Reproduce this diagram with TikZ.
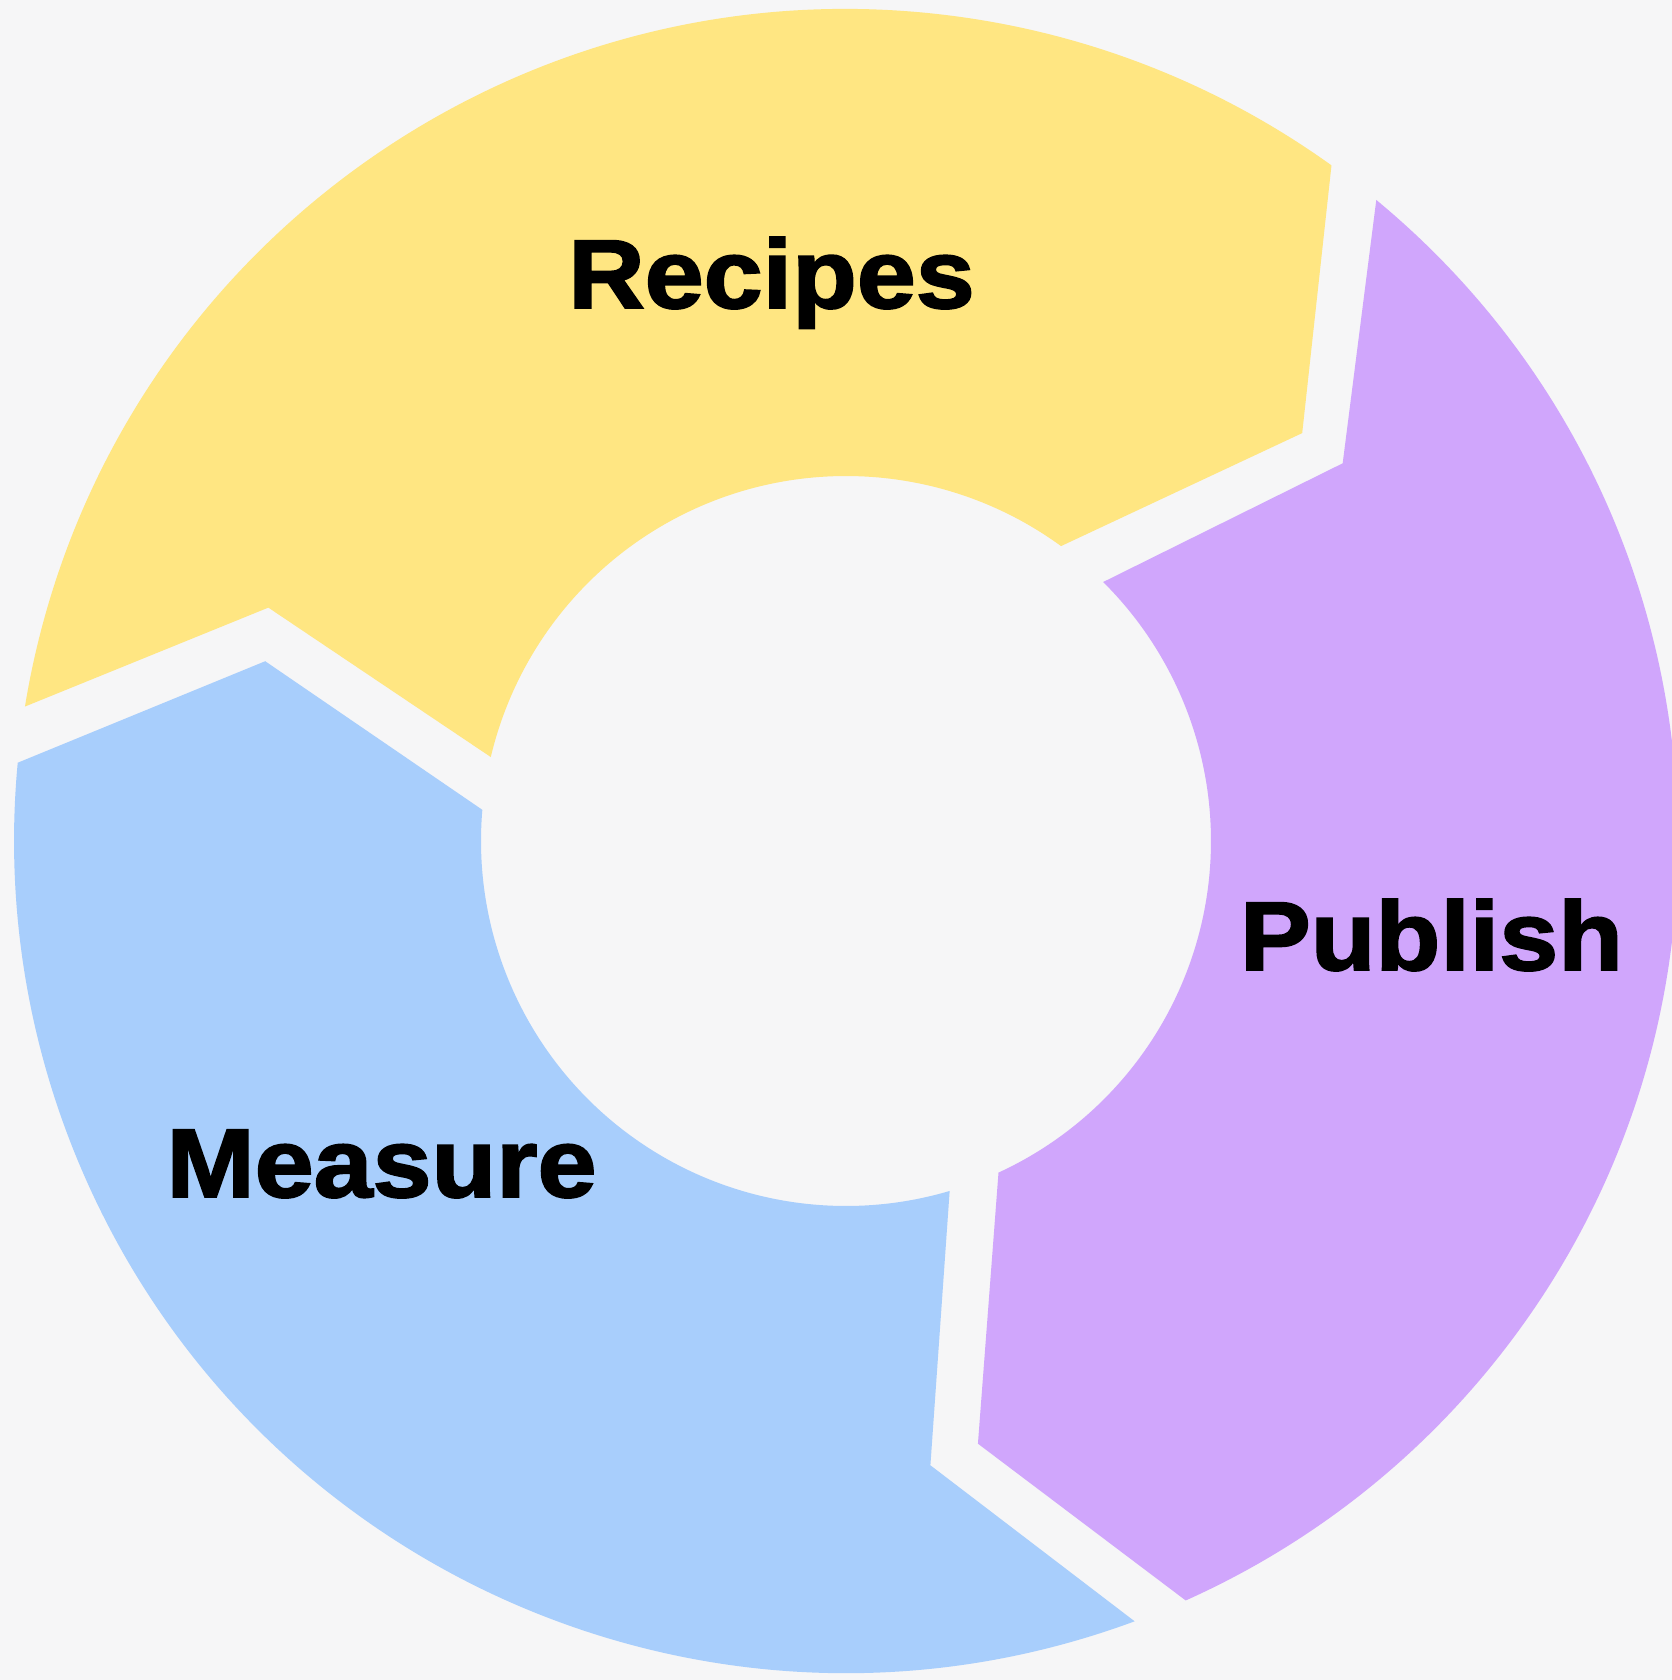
\documentclass[tikz,border=0pt]{standalone}
\usepackage{fontspec}
\newfontfamily\lblfont{Liberation Sans}[BoldFeatures={FakeBold=2,FakeStretch=1.085}]
\definecolor{bgc}{HTML}{F6F6F7}
\definecolor{yellowc}{HTML}{FFE682}
\definecolor{purplec}{HTML}{D0A6FC}
\definecolor{bluec}{HTML}{A8CEFC}
\begin{document}
\begin{tikzpicture}[
  lbl/.style={font=\lblfont\bfseries\fontsize{27.8}{30}\selectfont, inner sep=0pt, anchor=base, text=black}
]
\def\Ro{8.32}
\def\Ri{3.65}
\useasboundingbox (-8.46,-8.39) rectangle (8.26,8.41);
\clip (-8.46,-8.39) rectangle (8.26,8.41);
\fill[bgc] (-8.46,-8.39) rectangle (8.26,8.41);
% Recipes segment
\fill[yellowc] (170.7:\Ro) arc[start angle=170.7, end angle=54.3, radius=\Ro]
  -- (41.8:6.12) -- (53.9:\Ri) arc[start angle=53.9, end angle=166.7, radius=\Ri]
  -- (158.0:6.23) -- cycle;
% Publish segment
\fill[purplec] (50.4:\Ro) arc[start angle=50.4, end angle=-65.9, radius=\Ro]
  -- (-77.65:6.17) -- (-65.3:\Ri) arc[start angle=-65.3, end angle=45.2, radius=\Ri]
  -- (37.25:6.24) -- cycle;
% Measure segment
\fill[bluec] (290.3:\Ro) arc[start angle=290.3, end angle=174.6, radius=\Ro]
  -- (162.8:6.08) -- (175.1:\Ri) arc[start angle=175.1, end angle=286.5, radius=\Ri]
  -- (277.7:6.30) -- cycle;
\node[lbl] (recipes) at (-0.745,5.33) {Recipes};
\node[lbl] (publish) at (5.855,-1.29) {Publish};
\node[lbl] (measure) at (-4.645,-3.56) {Measure};
\end{tikzpicture}
\end{document}
